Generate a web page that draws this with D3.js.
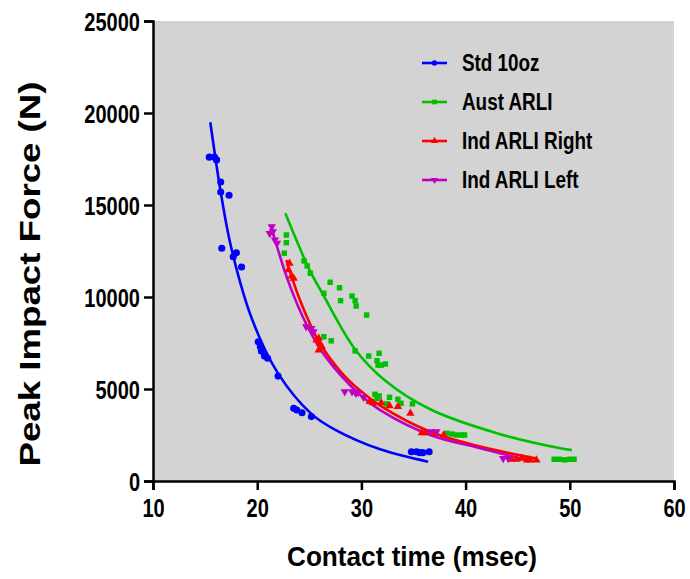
<!DOCTYPE html>
<html>
<head>
<meta charset="utf-8">
<script src="https://cdn.jsdelivr.net/npm/d3@7"></script>
<style>
  body { margin: 0; background: #fff; }
  text { font-family: "Liberation Sans", Arial, sans-serif; font-weight: bold; }
</style>
</head>
<body>
<script>
// tick values
const xTicks = [10, 20, 30, 40, 50, 60];
const yTicks = [0, 5000, 10000, 15000, 20000, 25000];

// measured points [contact time ms, peak force N]
const std10oz = [
  [15.4, 17600], [15.9, 17600], [16.1, 17450], [16.5, 16250], [16.5, 15700], [17.3, 15530],
  [16.6, 12650], [18.0, 12400], [17.7, 12190], [18.5, 11630],
  [20.1, 7570], [20.3, 7300], [20.4, 7060], [20.7, 6790], [21.0, 6670], [22.0, 5700],
  [23.5, 3950], [23.8, 3860], [24.3, 3710], [25.2, 3500],
  [34.8, 1590], [35.3, 1590], [35.6, 1540], [35.9, 1540], [36.5, 1590]
];
const austARLI = [
  [22.8, 13370], [22.8, 12950], [22.6, 12380], [24.5, 11960], [24.8, 11690], [25.1, 11290],
  [27.0, 10800], [26.4, 10200], [27.9, 10500], [28.0, 9800], [29.1, 10050], [29.4, 9800],
  [29.5, 9510], [30.5, 9020], [26.4, 7840], [27.1, 7620], [29.4, 7070], [30.7, 6790],
  [31.7, 6940], [31.5, 6540], [31.6, 6300], [31.9, 6300], [32.3, 6360],
  [31.3, 4710], [31.7, 4620], [32.7, 4550], [33.5, 4440], [33.8, 4220], [32.4, 4190],
  [34.9, 4190], [31.5, 4490],
  [38.2, 2590], [38.7, 2550], [39.1, 2500], [39.6, 2500], [39.9, 2500],
  [48.5, 1180], [49.0, 1180], [49.5, 1150], [50.0, 1180], [50.4, 1180]
];
const indRight = [
  [23.1, 11830], [23.0, 11470], [23.3, 11140], [23.5, 11020],
  [25.9, 7750], [26.0, 7480], [26.2, 7300], [25.7, 7660], [25.9, 7120],
  [30.8, 4310], [31.1, 4250], [31.9, 4250], [32.7, 4080], [33.5, 4040], [34.7, 3680],
  [35.8, 2620], [36.1, 2620], [36.9, 2590], [37.9, 2500],
  [44.4, 1180], [44.9, 1180], [45.4, 1230], [45.9, 1140], [46.2, 1140], [46.8, 1140]
];
const indLeft = [
  [21.4, 13820], [21.5, 13550], [21.2, 13460], [21.7, 13100], [21.9, 12920],
  [24.7, 8390], [25.2, 8300], [25.4, 8110],
  [28.4, 4850], [29.1, 4850], [29.5, 4770], [29.4, 4820], [29.7, 4820], [30.2, 4550],
  [36.6, 2680], [37.2, 2680],
  [43.6, 1230], [44.1, 1230]
];

// fitted curves
const std10ozFit = [[15.5, 19500], [16.5, 15700], [17.5, 12700], [19.5, 8800], [22, 5850], [25.2, 3650], [27.5, 2780], [31.8, 1720], [36.4, 1050]];
const austFit = [[22.7, 14550], [25.0, 11500], [26.3, 10150], [29.4, 7150], [32.3, 5450], [36.6, 3900], [43.0, 2600], [49.1, 1780], [50.2, 1680]];
const rightFit = [[22.8, 12000], [24.1, 9840], [26.0, 7500], [28.0, 5950], [29.9, 4900], [31.8, 4100], [36.6, 2680], [41.4, 1870], [46.7, 1230]];
const leftFit = [[21.3, 13900], [23.0, 10820], [24.75, 8480], [26.5, 6800], [29.9, 4670], [31.8, 3850], [36.6, 2500], [41.4, 1780], [45.9, 1140]];

const seriesNames = ["Std 10oz", "Aust ARLI", "Ind ARLI Right", "Ind ARLI Left"];
const seriesColors = ["#0000ff", "#00c000", "#ff0000", "#c000c0"];
const seriesSymbols = [d3.symbolCircle, d3.symbolSquare, d3.symbolTriangle, d3.symbolTriangle];

const series = [
  { name: seriesNames[0], color: seriesColors[0], symbol: seriesSymbols[0], pts: std10oz, fit: std10ozFit, flip: false, size: 40 },
  { name: seriesNames[1], color: seriesColors[1], symbol: seriesSymbols[1], pts: austARLI, fit: austFit, flip: false, size: 30 },
  { name: seriesNames[2], color: seriesColors[2], symbol: seriesSymbols[2], pts: indRight, fit: rightFit, flip: false, size: 30 },
  { name: seriesNames[3], color: seriesColors[3], symbol: seriesSymbols[3], pts: indLeft, fit: leftFit, flip: true, size: 30 }
];

const width = 690, height = 579;
const margin = { top: 21, right: 16, bottom: 98, left: 153 };

const svg = d3.select("body").append("svg")
  .attr("width", width)
  .attr("height", height);

const x = d3.scaleLinear().domain([10, 60]).range([margin.left, width - margin.right]);
const y = d3.scaleLinear().domain([0, 25000]).range([height - margin.bottom, margin.top]);

// squeeze text horizontally, the original uses a narrow bold face
function narrow(sel, k) {
  sel.each(function() {
    const w = this.getComputedTextLength();
    d3.select(this).attr("textLength", w * k).attr("lengthAdjust", "spacingAndGlyphs");
  });
}

// plot background
svg.append("rect")
  .attr("x", x(10)).attr("y", y(25000))
  .attr("width", x(60) - x(10)).attr("height", y(0) - y(25000))
  .attr("fill", "#d3d3d3");

// curves
const line = d3.line().x(d => x(d[0])).y(d => y(d[1])).curve(d3.curveCatmullRom.alpha(0.5));
series.forEach(s => {
  svg.append("path")
    .datum(s.fit)
    .attr("d", line)
    .attr("fill", "none")
    .attr("stroke", s.color)
    .attr("stroke-width", 2.6);
});

// points
series.forEach(s => {
  svg.append("g").selectAll("path")
    .data(s.pts)
    .enter().append("path")
    .attr("d", d3.symbol().type(s.symbol).size(s.size))
    .attr("transform", d => `translate(${x(d[0])},${y(d[1])})` + (s.flip ? " rotate(180)" : ""))
    .attr("fill", s.color);
});

// axes
const yAxis = svg.append("g")
  .attr("transform", `translate(${x(10)},0)`)
  .call(d3.axisLeft(y).tickValues(yTicks).tickFormat(d3.format("d")).tickSize(9).tickPadding(4));
const xAxis = svg.append("g")
  .attr("transform", `translate(0,${y(0)})`)
  .call(d3.axisBottom(x).tickValues(xTicks).tickFormat(d3.format("d")).tickSize(9).tickPadding(9));

[xAxis, yAxis].forEach(g => {
  g.select(".domain").attr("stroke", "#000").attr("stroke-width", 2.5);
  g.selectAll(".tick line").attr("stroke", "#000").attr("stroke-width", 2.5);
  g.selectAll(".tick text").attr("fill", "#000").style("font-family", "'Liberation Sans', Arial, sans-serif").style("font-size", "25px").call(narrow, 0.8);
});
yAxis.selectAll(".tick text").attr("dy", "0.36em");

// axis titles
svg.append("text")
  .attr("transform", `translate(40,274) rotate(-90)`)
  .attr("text-anchor", "middle")
  .style("font-size", "30px")
  .attr("textLength", 385)
  .attr("lengthAdjust", "spacingAndGlyphs")
  .text("Peak Impact Force (N)");

svg.append("text")
  .attr("x", 412).attr("y", 566)
  .attr("text-anchor", "middle")
  .style("font-size", "27px")
  .attr("textLength", 250)
  .attr("lengthAdjust", "spacingAndGlyphs")
  .text("Contact time (msec)");

// legend
const legend = svg.append("g").attr("transform", "translate(422,63)");
series.forEach((s, i) => {
  const row = legend.append("g").attr("transform", `translate(0,${i * 39})`);
  row.append("line")
    .attr("x1", 0).attr("x2", 25)
    .attr("stroke", s.color).attr("stroke-width", 2.6);
  row.append("path")
    .attr("d", d3.symbol().type(s.symbol).size(22))
    .attr("transform", "translate(12.5,0)" + (s.flip ? " rotate(180)" : ""))
    .attr("fill", s.color);
  row.append("text")
    .attr("x", 40).attr("y", 8)
    .style("font-size", "23px")
    .attr("fill", "#000")
    .text(s.name)
    .call(narrow, 0.82);
});
</script>
</body>
</html>
